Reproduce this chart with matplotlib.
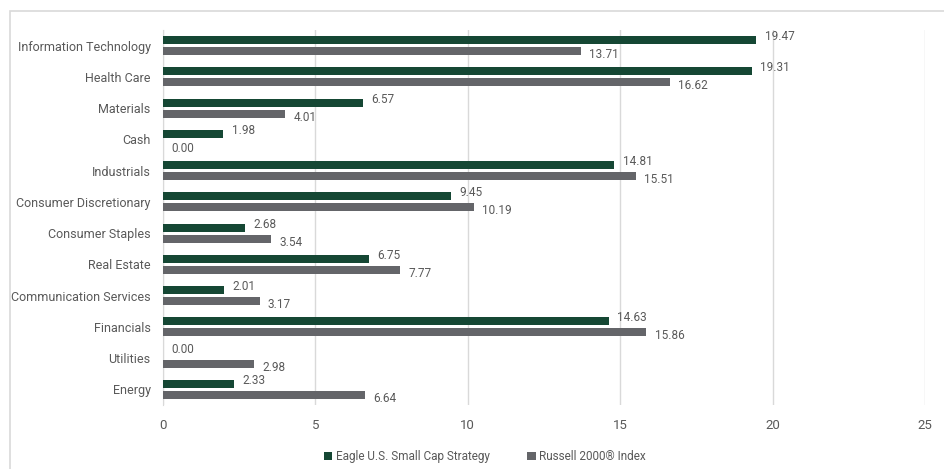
import matplotlib.pyplot as plt
import numpy as np
from matplotlib.patches import Rectangle

plt.rcParams['font.family'] = ['Roboto', 'DejaVu Sans']

sectors = ["Information Technology", "Health Care", "Materials", "Cash", "Industrials",
           "Consumer Discretionary", "Consumer Staples", "Real Estate",
           "Communication Services", "Financials", "Utilities", "Energy"]
eagle = [19.47, 19.31, 6.57, 1.98, 14.81, 9.45, 2.68, 6.75, 2.01, 14.63, 0.00, 2.33]
russell = [13.71, 16.62, 4.01, 0.00, 15.51, 10.19, 3.54, 7.77, 3.17, 15.86, 2.98, 6.64]

green = "#154734"
gray = "#646569"
txt = "#595959"

fig = plt.figure(figsize=(9.45, 4.69), dpi=100)
fig.patches.append(Rectangle((10 / 945, -0.01), 1.0, 1 - 11 / 469 + 0.01,
                             transform=fig.transFigure, fill=False,
                             edgecolor="#d9d9d9", linewidth=1.2))
ax = fig.add_axes([163 / 945, 1 - 405 / 469, (925 - 163) / 945, (405 - 30) / 469])

y = np.arange(len(sectors))
h = 0.26
off = 0.175
ax.barh(y - off, eagle, height=h, color=green, label="Eagle U.S. Small Cap Strategy", zorder=3)
ax.barh(y + off, russell, height=h, color=gray, label="Russell 2000® Index", zorder=3)

for i in range(len(sectors)):
    ax.annotate(f"{eagle[i]:.2f}", (eagle[i], y[i] - off), xytext=(6, 2.5),
                textcoords="offset points", ha="left", va="center", fontsize=8.5, color=txt)
    ax.annotate(f"{russell[i]:.2f}", (russell[i], y[i] + off), xytext=(6, -2.5),
                textcoords="offset points", ha="left", va="center", fontsize=8.5, color=txt)

ax.set_xlim(0, 25)
ax.set_ylim(len(sectors) - 0.5, -0.5)
ax.set_yticks(y)
ax.set_yticklabels(sectors, fontsize=9, color=txt)
ax.set_xticks([0, 5, 10, 15, 20, 25])
ax.tick_params(axis="x", labelsize=9.5, colors=txt, length=0, pad=10)
ax.tick_params(axis="y", length=0, pad=9)
ax.grid(axis="x", color="#d9d9d9", linewidth=1, zorder=0)
for s in ["top", "right", "bottom"]:
    ax.spines[s].set_visible(False)
ax.spines["left"].set_color("#d9d9d9")

fig.legend(loc="lower center", bbox_to_anchor=(0.513, -0.01), ncol=2, frameon=False,
           fontsize=8.5, labelcolor=txt, handlelength=0.7, handleheight=0.7,
           handletextpad=0.3, columnspacing=3.2)

fig.savefig("out.png", dpi=100)
